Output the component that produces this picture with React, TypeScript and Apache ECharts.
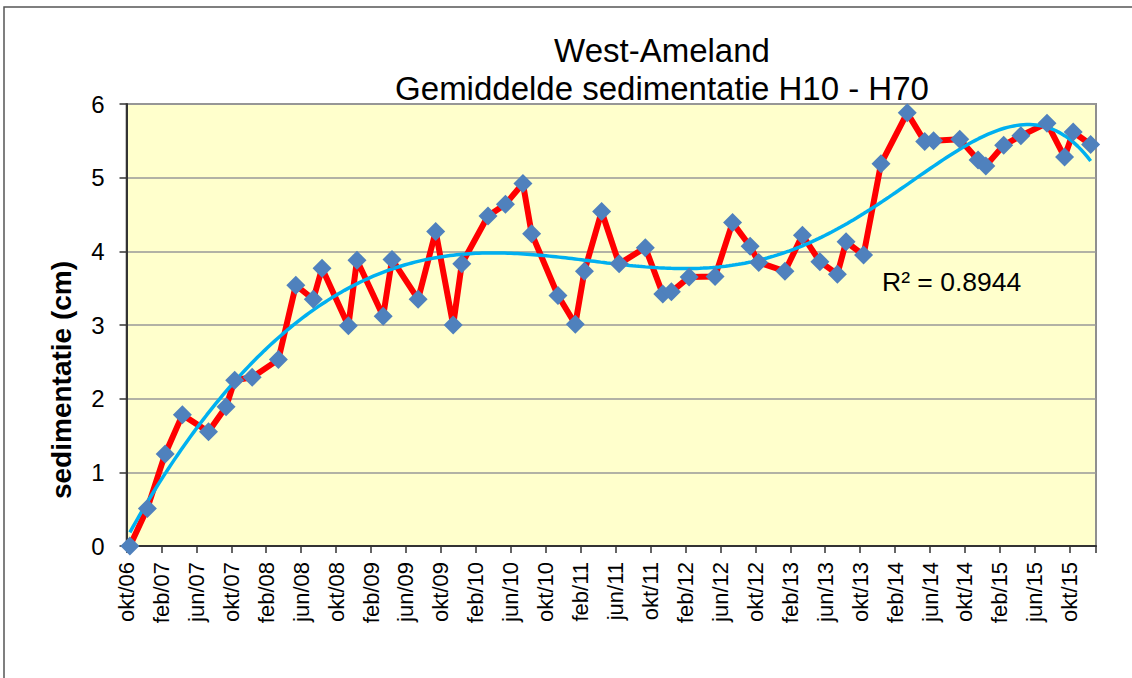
import React, { useEffect, useRef } from "react";
import * as echarts from "echarts";

// Sampling dates and mean sedimentation (cm)
const sampleDates = [
  "2006-10-13", "2006-12-13", "2007-02-13", "2007-04-13", "2007-07-13", "2007-09-13",
  "2007-10-13", "2007-12-13", "2008-03-13", "2008-05-13", "2008-07-13", "2008-08-13",
  "2008-11-13", "2008-12-13", "2009-03-13", "2009-04-13", "2009-07-13", "2009-09-13",
  "2009-11-13", "2009-12-13", "2010-03-13", "2010-05-13", "2010-07-13", "2010-08-13",
  "2010-11-13", "2011-01-13", "2011-02-13", "2011-04-13", "2011-06-13", "2011-09-13",
  "2011-11-13", "2011-12-13", "2012-02-13", "2012-05-13", "2012-07-13", "2012-09-13",
  "2012-10-13", "2013-01-13", "2013-03-13", "2013-05-13", "2013-07-13", "2013-08-13",
  "2013-10-13", "2013-12-13", "2014-03-13", "2014-05-13", "2014-06-13", "2014-09-13",
  "2014-11-16", "2014-12-13", "2015-02-13", "2015-04-13", "2015-07-13", "2015-09-13",
  "2015-10-13", "2015-12-13",
];
const sedimentation = [
  0.0, 0.51, 1.25, 1.78, 1.55, 1.89,
  2.25, 2.29, 2.53, 3.54, 3.35, 3.77,
  2.99, 3.88, 3.12, 3.89, 3.35, 4.27,
  3.0, 3.83, 4.48, 4.64, 4.92, 4.24,
  3.4, 3.01, 3.73, 4.54, 3.83, 4.05,
  3.42, 3.45, 3.65, 3.66, 4.39, 4.07,
  3.85, 3.73, 4.22, 3.86, 3.69, 4.13,
  3.95, 5.19, 5.88, 5.49, 5.5, 5.52,
  5.24, 5.16, 5.44, 5.57, 5.74, 5.28,
  5.62, 5.45,
];
const tickLabels = [
  "okt/06", "feb/07", "jun/07", "okt/07", "feb/08", "jun/08", "okt/08",
  "feb/09", "jun/09", "okt/09", "feb/10", "jun/10", "okt/10", "feb/11",
  "jun/11", "okt/11", "feb/12", "jun/12", "okt/12", "feb/13", "jun/13",
  "okt/13", "feb/14", "jun/14", "okt/14", "feb/15", "jun/15", "okt/15",
];
const titleLines = ["West-Ameland", "Gemiddelde sedimentatie H10 - H70"];
const yAxisTitle = "sedimentatie (cm)";
const rSquaredLabel = "R² = 0.8944";
// Excel polynomial trendline (order 6), least-squares fit of the data
const trendDegree = 6;

const FONT = "'Liberation Sans', Arial, sans-serif";

// months since 1 Oct 2006 (fractional)
function toMonthIndex(d: string): number {
  const [y, m, day] = d.split("-").map(Number);
  const dim = new Date(y, m, 0).getDate();
  return (y - 2006) * 12 + (m - 10) + (day - 1) / dim;
}

function polyfit(xs: number[], ys: number[], deg: number) {
  const lo = Math.min(...xs), hi = Math.max(...xs);
  const c = (lo + hi) / 2, s = (hi - lo) / 2;
  const n = deg + 1;
  const A: number[][] = Array.from({ length: n }, () => new Array(n + 1).fill(0));
  xs.forEach((x, k) => {
    const t = (x - c) / s;
    const pw: number[] = [1];
    for (let i = 1; i <= 2 * deg; i++) pw.push(pw[i - 1] * t);
    for (let i = 0; i < n; i++) {
      for (let j = 0; j < n; j++) A[i][j] += pw[i + j];
      A[i][n] += ys[k] * pw[i];
    }
  });
  for (let col = 0; col < n; col++) {
    let piv = col;
    for (let r = col + 1; r < n; r++) if (Math.abs(A[r][col]) > Math.abs(A[piv][col])) piv = r;
    [A[col], A[piv]] = [A[piv], A[col]];
    for (let r = 0; r < n; r++) {
      if (r === col) continue;
      const f = A[r][col] / A[col][col];
      for (let k = col; k <= n; k++) A[r][k] -= f * A[col][k];
    }
  }
  const coef = A.map((row, i) => row[n] / row[i]);
  return (x: number) => {
    const t = (x - c) / s;
    let v = 0;
    for (let i = n - 1; i >= 0; i--) v = v * t + coef[i];
    return v;
  };
}

export default function App() {
  const ref = useRef<HTMLDivElement>(null);
  useEffect(() => {
    if (!ref.current) return;
    const chart = echarts.init(ref.current, undefined, { renderer: "svg" });
    const xs = sampleDates.map(toMonthIndex);
    const points = xs.map((x, i) => [x, sedimentation[i]]);
    const fit = polyfit(xs, sedimentation, trendDegree);
    const x0 = xs[0], x1 = xs[xs.length - 1];
    const trend: number[][] = [];
    for (let i = 0; i <= 300; i++) {
      const x = x0 + ((x1 - x0) * i) / 300;
      trend.push([x, fit(x)]);
    }

    chart.setOption({
      animation: false,
      backgroundColor: "#ffffff",
      grid: {
        left: 126.5,
        right: 36,
        top: 104,
        bottom: 132,
        show: true,
        backgroundColor: "#FFFFCC",
        borderColor: "#8f8f8f",
        borderWidth: 2,
      },
      xAxis: {
        type: "value",
        min: 0,
        max: 111,
        interval: 4,
        axisLine: { show: true, lineStyle: { color: "#333333", width: 2 } },
        axisTick: { show: true, length: 7, lineStyle: { color: "#333333", width: 1.5 } },
        splitLine: { show: false },
        axisLabel: {
          rotate: 90,
          margin: 16,
          fontSize: 22,
          color: "#000",
          fontFamily: FONT,
          formatter: (v: number) => (v % 4 === 0 ? tickLabels[v / 4] ?? "" : ""),
        },
      },
      yAxis: {
        type: "value",
        min: 0,
        max: 6,
        interval: 1,
        axisLine: { show: true, lineStyle: { color: "#333333", width: 2 } },
        axisTick: { show: true, length: 7, lineStyle: { color: "#333333", width: 1.5 } },
        splitLine: { show: true, lineStyle: { color: "#999999", width: 1.5 } },
        axisLabel: { fontSize: 24, color: "#000", margin: 22, fontFamily: FONT },
      },
      graphic: [
        {
          type: "rect",
          shape: { x: 4, y: 7, width: 1200, height: 720 },
          style: { fill: "none", stroke: "#555555", lineWidth: 1.5 },
          silent: true,
        },
        {
          type: "text",
          x: 662,
          y: 50,
          style: { text: titleLines[0], fontSize: 33, fontFamily: FONT, fill: "#000", textAlign: "center", textVerticalAlign: "middle" },
        },
        {
          type: "text",
          x: 662,
          y: 88,
          style: { text: titleLines[1], fontSize: 33, fontFamily: FONT, fill: "#000", textAlign: "center", textVerticalAlign: "middle" },
        },
        {
          type: "text",
          x: 61,
          y: 380,
          rotation: Math.PI / 2,
          style: { text: yAxisTitle, fontSize: 28, fontWeight: "bold", fontFamily: FONT, fill: "#000", textAlign: "center", textVerticalAlign: "middle" },
        },
        {
          type: "text",
          x: 882,
          y: 282,
          style: { text: rSquaredLabel, fontSize: 26.5, fontFamily: FONT, fill: "#000", textAlign: "left", textVerticalAlign: "middle" },
        },
      ],
      series: [
        {
          type: "line",
          data: points,
          showSymbol: false,
          lineStyle: { color: "#FF0000", width: 6 },
          z: 2,
        },
        {
          type: "line",
          data: trend,
          showSymbol: false,
          lineStyle: { color: "#00B0F0", width: 3.5 },
          z: 3,
        },
        {
          type: "scatter",
          data: points,
          symbol: "diamond",
          symbolSize: [19, 19],
          itemStyle: { color: "#4F81BD", opacity: 1 },
          z: 4,
        },
      ],
    });
    return () => chart.dispose();
  }, []);
  return (
    <div
      ref={ref}
      style={{ position: "fixed", left: 0, top: 0, width: 1132, height: 678, background: "#fff" }}
    />
  );
}
